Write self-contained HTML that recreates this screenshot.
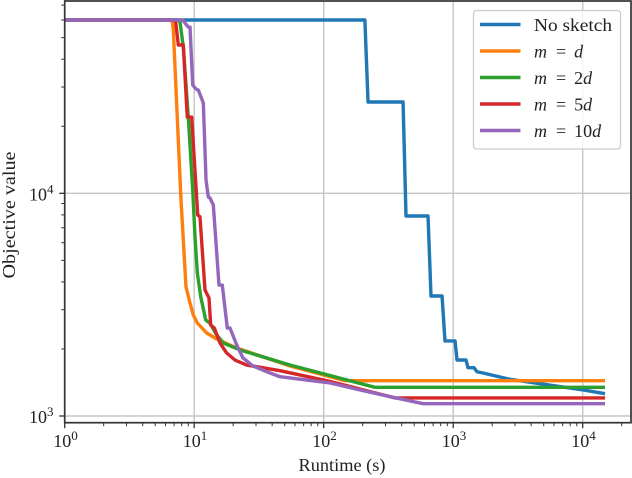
<!DOCTYPE html>
<html>
<head>
<meta charset="utf-8">
<title>Objective value vs runtime</title>
<style>
html,body{margin:0;padding:0;background:#fff;}
svg{display:block;font-family:"Liberation Serif",serif;}
</style>
</head>
<body>
<svg id="chart" xmlns="http://www.w3.org/2000/svg" width="632" height="478" viewBox="0 0 632 478">
  <g id="grid"></g>
  <g id="series"></g>
  <g id="axes"></g>
  <text x="342" y="471" font-size="18" text-anchor="middle" textLength="87" lengthAdjust="spacingAndGlyphs" fill="#222">Runtime (s)</text>
  <text transform="translate(15,215) rotate(-90)" font-size="18" text-anchor="middle" textLength="127" lengthAdjust="spacingAndGlyphs" fill="#222">Objective value</text>
  <g>
    <rect x="473.5" y="10.5" width="147" height="138.5" rx="3" fill="#fff" fill-opacity="0.8" stroke="#ccc" stroke-width="1.3"/>
    <line x1="480" x2="520.5" y1="24.5" y2="24.5" stroke="#1f77b4" stroke-width="3.4"/>
    <text x="534" y="31" font-size="18" textLength="78" lengthAdjust="spacingAndGlyphs" fill="#222">No sketch</text>
    <line x1="480" x2="520.5" y1="51" y2="51" stroke="#ff7f0e" stroke-width="3.4"/>
    <text x="534" y="57.5" font-size="18" fill="#222"><tspan font-style="italic">m</tspan><tspan dx="9">=</tspan><tspan dx="8" font-style="italic">d</tspan></text>
    <line x1="480" x2="520.5" y1="77.5" y2="77.5" stroke="#2ca02c" stroke-width="3.4"/>
    <text x="534" y="84" font-size="18" fill="#222"><tspan font-style="italic">m</tspan><tspan dx="9">=</tspan><tspan dx="8">2</tspan><tspan font-style="italic">d</tspan></text>
    <line x1="480" x2="520.5" y1="104" y2="104" stroke="#d62728" stroke-width="3.4"/>
    <text x="534" y="110.5" font-size="18" fill="#222"><tspan font-style="italic">m</tspan><tspan dx="9">=</tspan><tspan dx="8">5</tspan><tspan font-style="italic">d</tspan></text>
    <line x1="480" x2="520.5" y1="130.5" y2="130.5" stroke="#9467bd" stroke-width="3.4"/>
    <text x="534" y="137" font-size="18" fill="#222"><tspan font-style="italic">m</tspan><tspan dx="9">=</tspan><tspan dx="8">10</tspan><tspan font-style="italic">d</tspan></text>
  </g>
</svg>
<script>
var xMajorExponents = [0, 1, 2, 3, 4];
var yMajorExponents = [3, 4];
var xMinorMultipliers = [2, 3, 4, 5, 6, 7, 8, 9];
var yMinorTicks = [2000, 3000, 4000, 5000, 6000, 7000, 8000, 9000, 20000, 30000, 40000, 50000, 60000, 70000];

var runtimeNoSketch = [1, 208, 220, 410, 432, 639, 674, 820, 864, 1033, 1070, 1256, 1301, 1447, 1527, 1699, 2745, 10230, 14870];
var objectiveNoSketch = [60000, 60000, 25700, 25700, 7909, 7909, 3458, 3458, 2172, 2172, 1784, 1784, 1648, 1648, 1580, 1560, 1461, 1308, 1259];

var runtimeMd = [1, 6.74, 6.90, 7.91, 8.64, 9.28, 9.84, 10.57, 12.49, 14.92, 21.3, 54.9, 146, 14870];
var objectiveMd = [60000, 60000, 54100, 9330, 3806, 3216, 2841, 2616, 2359, 2217, 2020, 1677, 1440, 1440];

var runtimeM2d = [1, 7.5, 7.77, 8.24, 9.00, 9.74, 10.14, 10.57, 11.23, 12.27, 13.24, 14.92, 16.78, 22.6, 54.9, 249, 14870];
var objectiveM2d = [60000, 60000, 58800, 45400, 22000, 10340, 6384, 4387, 3433, 2698, 2608, 2310, 2127, 1979, 1694, 1345, 1345];

var runtimeM5d = [1, 7.0, 7.20, 7.54, 8.24, 8.84, 9.56, 10.45, 10.64, 11.08, 12.12, 13.01, 13.41, 14.30, 15.82, 17.82, 20.65, 25.4, 46, 112, 355, 14870];
var objectiveM5d = [60000, 60000, 58800, 46340, 46340, 22000, 22000, 9526, 7990, 7851, 3679, 3387, 2563, 2484, 2127, 1918, 1784, 1694, 1597, 1429, 1205, 1205];

var runtimeM10d = [1, 8.1, 8.24, 9.00, 9.28, 9.74, 10.33, 10.76, 11.76, 12.34, 12.85, 13.24, 14.05, 15.54, 16.48, 18.01, 18.90, 21.3, 23.8, 28.4, 38.5, 46, 112, 191, 343, 585, 14870];
var objectiveM10d = [60000, 60000, 59400, 55800, 55800, 30640, 29390, 29090, 25440, 11470, 9625, 9526, 8862, 3874, 3874, 2484, 2484, 2084, 1822, 1677, 1560, 1501, 1407, 1308, 1213, 1136, 1136];

var NS = 'http://www.w3.org/2000/svg';
var plotLeft = 64.7, plotRight = 631, plotTop = 1, plotBottom = 422.7;
function xScale(t) { return 64.7 + Math.log10(t) * 129.5; }
function yScale(v) { return 416 - (Math.log10(v) - 3) * 222.7; }

function make(tag, attrs, parent) {
  var el = document.createElementNS(NS, tag);
  for (var k in attrs) { el.setAttribute(k, attrs[k]); }
  parent.appendChild(el);
  return el;
}

var gridGroup = document.getElementById('grid');
var seriesGroup = document.getElementById('series');
var axesGroup = document.getElementById('axes');
var gridColor = '#c6c6c6';
var tickColor = '#333';
var labelColor = '#222';

xMajorExponents.forEach(function (e) {
  var x = xScale(Math.pow(10, e));
  var gl = make('line', { x1: x, x2: x, y1: plotTop, y2: plotBottom, stroke: gridColor, 'stroke-width': 1.4 }, gridGroup);
  
  
  var tk = make('line', { x1: x, x2: x, y1: plotBottom, y2: plotBottom + 5.5, stroke: tickColor, 'stroke-width': 1.3 }, axesGroup);
  
  
  var base = make('text', { x: x - 11.5, y: 447, 'font-size': 18, fill: labelColor }, axesGroup);
  base.textContent = '10';
  
  
  var sup = make('text', { x: x + 6.5, y: 440, 'font-size': 13, fill: labelColor }, axesGroup);
  sup.textContent = String(e);
  
  
  xMinorMultipliers.forEach(function (m) {
    var value = m * Math.pow(10, e);
    var mx = xScale(value);
    if (mx > plotRight) { return; }
    var mt = make('line', { x1: mx, x2: mx, y1: plotBottom, y2: plotBottom + 3.5, stroke: tickColor, 'stroke-width': 1 }, axesGroup);
    
    
  });
});

yMajorExponents.forEach(function (e) {
  var y = yScale(Math.pow(10, e));
  var gl = make('line', { x1: plotLeft, x2: plotRight, y1: y, y2: y, stroke: gridColor, 'stroke-width': 1.4 }, gridGroup);
  
  
  var tk = make('line', { x1: plotLeft - 5.5, x2: plotLeft, y1: y, y2: y, stroke: tickColor, 'stroke-width': 1.3 }, axesGroup);
  
  
  var base = make('text', { x: 29, y: y + 7, 'font-size': 18, fill: labelColor }, axesGroup);
  base.textContent = '10';
  
  
  var sup = make('text', { x: 47, y: y, 'font-size': 13, fill: labelColor }, axesGroup);
  sup.textContent = String(e);
  
  
});

yMinorTicks.forEach(function (v) {
  var y = yScale(v);
  var mt = make('line', { x1: plotLeft - 3.5, x2: plotLeft, y1: y, y2: y, stroke: tickColor, 'stroke-width': 1 }, axesGroup);
  
  
});

function drawSeries(runtimes, objectives, color, name) {
  var pts = runtimes.map(function (t, i) {
    return xScale(t).toFixed(2) + ',' + yScale(objectives[i]).toFixed(2);
  }).join(' ');
  var line = make('polyline', { points: pts, fill: 'none', stroke: color, 'stroke-width': 3.4, 'stroke-linejoin': 'round', 'stroke-linecap': 'butt' }, seriesGroup);
  
  
}
drawSeries(runtimeNoSketch, objectiveNoSketch, '#1f77b4', 'series-no-sketch');
drawSeries(runtimeMd, objectiveMd, '#ff7f0e', 'series-m-d');
drawSeries(runtimeM2d, objectiveM2d, '#2ca02c', 'series-m-2d');
drawSeries(runtimeM5d, objectiveM5d, '#d62728', 'series-m-5d');
drawSeries(runtimeM10d, objectiveM10d, '#9467bd', 'series-m-10d');

var frame = make('rect', { x: plotLeft, y: plotTop, width: plotRight - plotLeft, height: plotBottom - plotTop, fill: 'none', stroke: '#333', 'stroke-width': 1.7 }, axesGroup);


</script>
</body>
</html>
